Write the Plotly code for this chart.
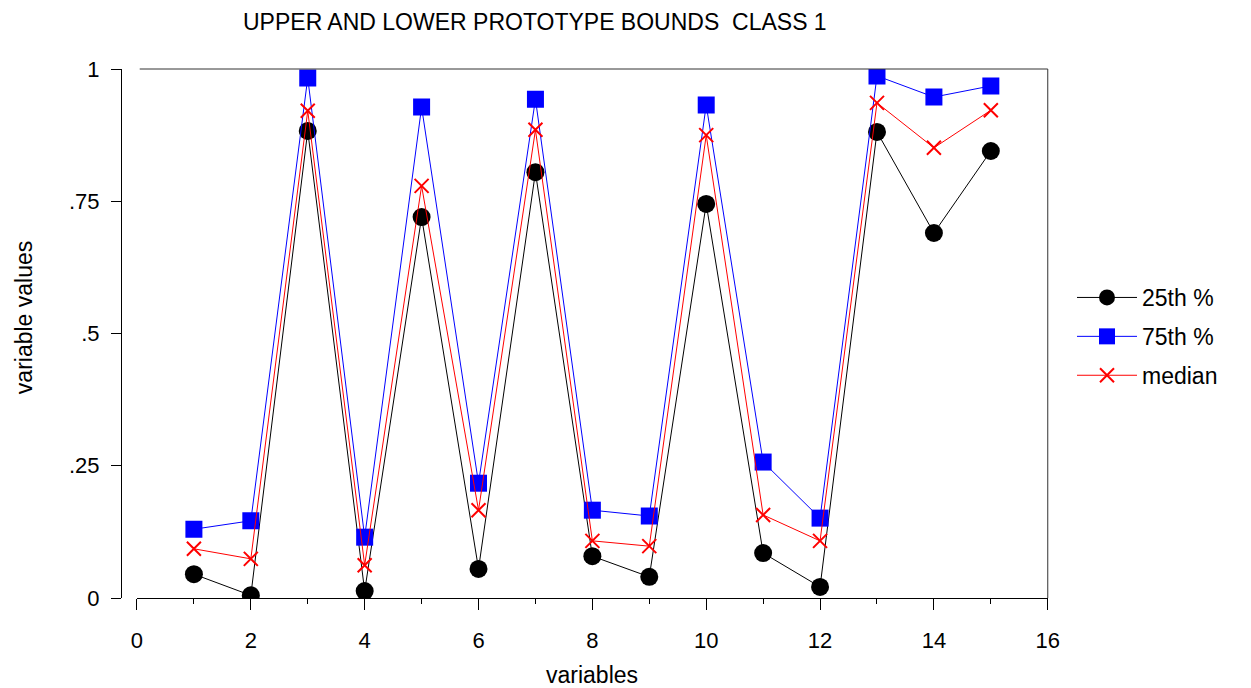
import plotly.graph_objects as go

variables = list(range(1, 16))
p25 = [0.045, 0.005, 0.883, 0.013, 0.720, 0.055, 0.805, 0.079, 0.040, 0.745, 0.085, 0.021, 0.881, 0.690, 0.845]
p75 = [0.130, 0.146, 0.983, 0.115, 0.928, 0.217, 0.943, 0.166, 0.155, 0.932, 0.257, 0.151, 0.987, 0.947, 0.968]
median = [0.093, 0.074, 0.921, 0.062, 0.779, 0.166, 0.885, 0.108, 0.098, 0.875, 0.157, 0.108, 0.936, 0.851, 0.922]

y_tickvals = [0, 0.25, 0.5, 0.75, 1]
y_ticktext = ["0", ".25", ".5", ".75", "1"]
x_tickvals = [0, 2, 4, 6, 8, 10, 12, 14, 16]

FONT = "Liberation Sans, Arial, sans-serif"

fig = go.Figure()
fig.add_trace(go.Scatter(x=variables, y=p25, name="25th %", mode="lines+markers",
                         line=dict(color="black", width=1),
                         marker=dict(symbol="circle", size=18, color="black"),
                         legendgroup="a"))
fig.add_trace(go.Scatter(x=variables, y=p75, name="75th %", mode="lines+markers",
                         line=dict(color="#0000ff", width=1),
                         marker=dict(symbol="square", size=17, color="#0000ff"),
                         legendgroup="b"))
fig.add_trace(go.Scatter(x=variables, y=median, name="median", mode="lines+markers",
                         line=dict(color="#ff0000", width=1),
                         marker=dict(symbol="x-thin", size=14, color="#ff0000",
                                     line=dict(color="#ff0000", width=2)),
                         legendgroup="c"))

W, H = 1251, 688
L, R, T, B = 121, 202, 69, 90
pw = W - L - R

fig.update_layout(
    width=W, height=H,
    margin=dict(l=L, r=R, t=T, b=B),
    paper_bgcolor="white", plot_bgcolor="white",
    font=dict(family=FONT, size=22, color="black"),
    showlegend=True,
    legend=dict(xref="container", yref="container", x=1072 / W, y=1 - 276 / H,
                xanchor="left", yanchor="top", font=dict(size=23),
                itemwidth=60, tracegroupgap=6, bgcolor="rgba(0,0,0,0)"),
    xaxis=dict(domain=[16 / pw, 1], range=[0, 16], tickvals=x_tickvals,
               showline=True, linecolor="black", linewidth=1, showgrid=False, zeroline=False,
               ticks="outside", ticklen=11, tickcolor="black",
               minor=dict(dtick=1, tick0=0, ticks="outside", ticklen=5, tickcolor="black", showgrid=False),
               tickfont=dict(size=22), anchor="y", ticklabelstandoff=12),
    yaxis=dict(range=[0, 1], tickvals=y_tickvals, ticktext=y_ticktext,
               showline=True, linecolor="black", linewidth=1, showgrid=False, zeroline=False,
               ticks="outside", ticklen=10, tickcolor="black",
               anchor="free", position=0, tickfont=dict(size=22), ticklabelstandoff=7),
    shapes=[
        dict(type="line", xref="x domain", yref="y domain", x0=0.003, x1=1, y0=1, y1=1,
             line=dict(color="#333333", width=1)),
        dict(type="line", xref="x domain", yref="y domain", x0=1, x1=1, y0=0, y1=1,
             line=dict(color="#333333", width=1)),
    ],
    annotations=[
        dict(text="UPPER AND LOWER PROTOTYPE BOUNDS  CLASS 1", xref="paper", yref="paper",
             x=(536 - L) / pw, y=1 + (T - 22) / (H - T - B), xanchor="center", yanchor="middle",
             showarrow=False, font=dict(size=23)),
        dict(text="variables", xref="paper", yref="paper",
             x=(593 - L) / pw, y=-(675 - (H - B)) / (H - T - B), xanchor="center", yanchor="middle",
             showarrow=False, font=dict(size=23)),
        dict(text="variable values", xref="paper", yref="paper", textangle=-90,
             x=-(L - 24) / pw, y=(H - B - 318) / (H - T - B), xanchor="center", yanchor="middle",
             showarrow=False, font=dict(size=23)),
    ],
)

fig.write_html("out.html")
